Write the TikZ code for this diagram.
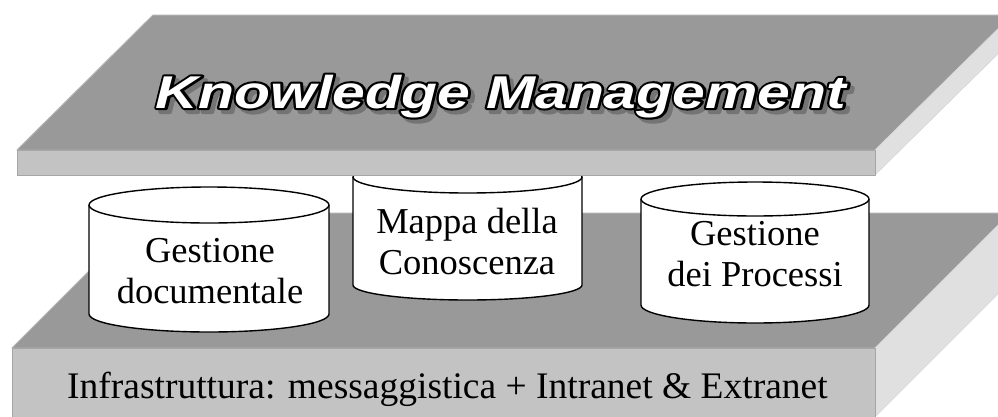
\documentclass[tikz,border=0pt]{standalone}
\usepackage{fontspec}
\setmainfont{Liberation Serif}
\newfontfamily\titlefont{Liberation Sans}
\definecolor{topface}{HTML}{999999}
\definecolor{frontface}{HTML}{C3C3C3}
\definecolor{sideface}{HTML}{E0E0E0}
\definecolor{edgeline}{HTML}{B2B2B2}
\definecolor{edgedark}{HTML}{A6A6A6}
\definecolor{shadowc}{HTML}{747474}
% text whose glyphs are filled and stroked (stroke grey level #1, width #2)
\newcommand\strokedtext[3]{\special{pdf:literal direct #1 G #2 w 1 j 2 Tr}#3\special{pdf:literal direct 0 Tr}}
% white letters with a black outline lying outside the glyphs
\newcommand\wordart[1]{\rlap{\color{black}\strokedtext{0}{4.2}{#1}}\color{white}#1}
\tikzset{
  topfacestyle/.style={fill=topface,draw=edgeline,line width=1pt,line join=round},
  frontfacestyle/.style={fill=frontface,draw=edgedark,line width=1pt},
  sidefacestyle/.style={fill=sideface,draw=sideface!90!gray,line width=0.6pt},
  cylbody/.style={fill=white,draw=black,line width=1.4pt},
  cyltext/.style={inner sep=0pt,align=center,font=\fontsize{36.5}{41}\selectfont},
  titletext/.style={inner sep=0pt,anchor=base,font=\titlefont\fontsize{46}{50}\selectfont\bfseries\itshape},
}
\begin{document}
\begin{tikzpicture}[x=1pt,y=-1pt]
\clip (0,0) rectangle (998,416);
\fill[white] (0,0) rectangle (998,416);
% ---- lower slab
\path[topfacestyle] (147,213) -- (1010,213) -- (875,348) -- (12,348) -- cycle;
\path[sidefacestyle] (875,348) -- (1010,213) -- (1010,282) -- (875,417) -- cycle;
\path[frontfacestyle] (12,348) rectangle (875,420);
\node[anchor=base west,inner sep=0pt,font=\fontsize{37.5}{42}\selectfont] (infra) at (67,398) {Infrastruttura: messaggistica + Intranet \& Extranet};
% ---- cylinders
% left
\path[cylbody] (89,205) -- (89,314) arc[start angle=180,end angle=0,x radius=120,y radius=18] -- (329,205);
\draw[cylbody] (209,205) ellipse[x radius=120,y radius=18];
\node[cyltext] (doc) at (210,271) {Gestione\\documentale};
% middle
\path[cylbody] (353,177) -- (353,285) arc[start angle=180,end angle=0,x radius=114.5,y radius=15] -- (582,177);
\draw[cylbody] (467.5,177) ellipse[x radius=114.5,y radius=16];
\node[cyltext] (mappa) at (467,241.5) {Mappa della\\Conoscenza};
% right
\path[cylbody] (641,199) -- (641,305) arc[start angle=180,end angle=0,x radius=114,y radius=18] -- (869,199);
\draw[cylbody] (755,199) ellipse[x radius=114,y radius=17];
\node[cyltext] (proc) at (755,254.5) {Gestione\\dei Processi};
% ---- upper slab
\path[topfacestyle] (153,15) -- (1012,15) -- (875,150) -- (17,150) -- cycle;
\path[sidefacestyle] (875,150) -- (1012,15) -- (1012,40) -- (875,175) -- cycle;
\path[frontfacestyle] (17,150) rectangle (875,175);
% ---- title with drop shadow
\node[titletext] (titleshadow) at (505,112) {\scalebox{1.28}[1]{\color{shadowc}\strokedtext{0.455}{4.2}{Knowledge Management}}};
\node[titletext] (title) at (501,108) {\scalebox{1.28}[1]{\wordart{Knowledge Management}}};
\end{tikzpicture}
\end{document}
